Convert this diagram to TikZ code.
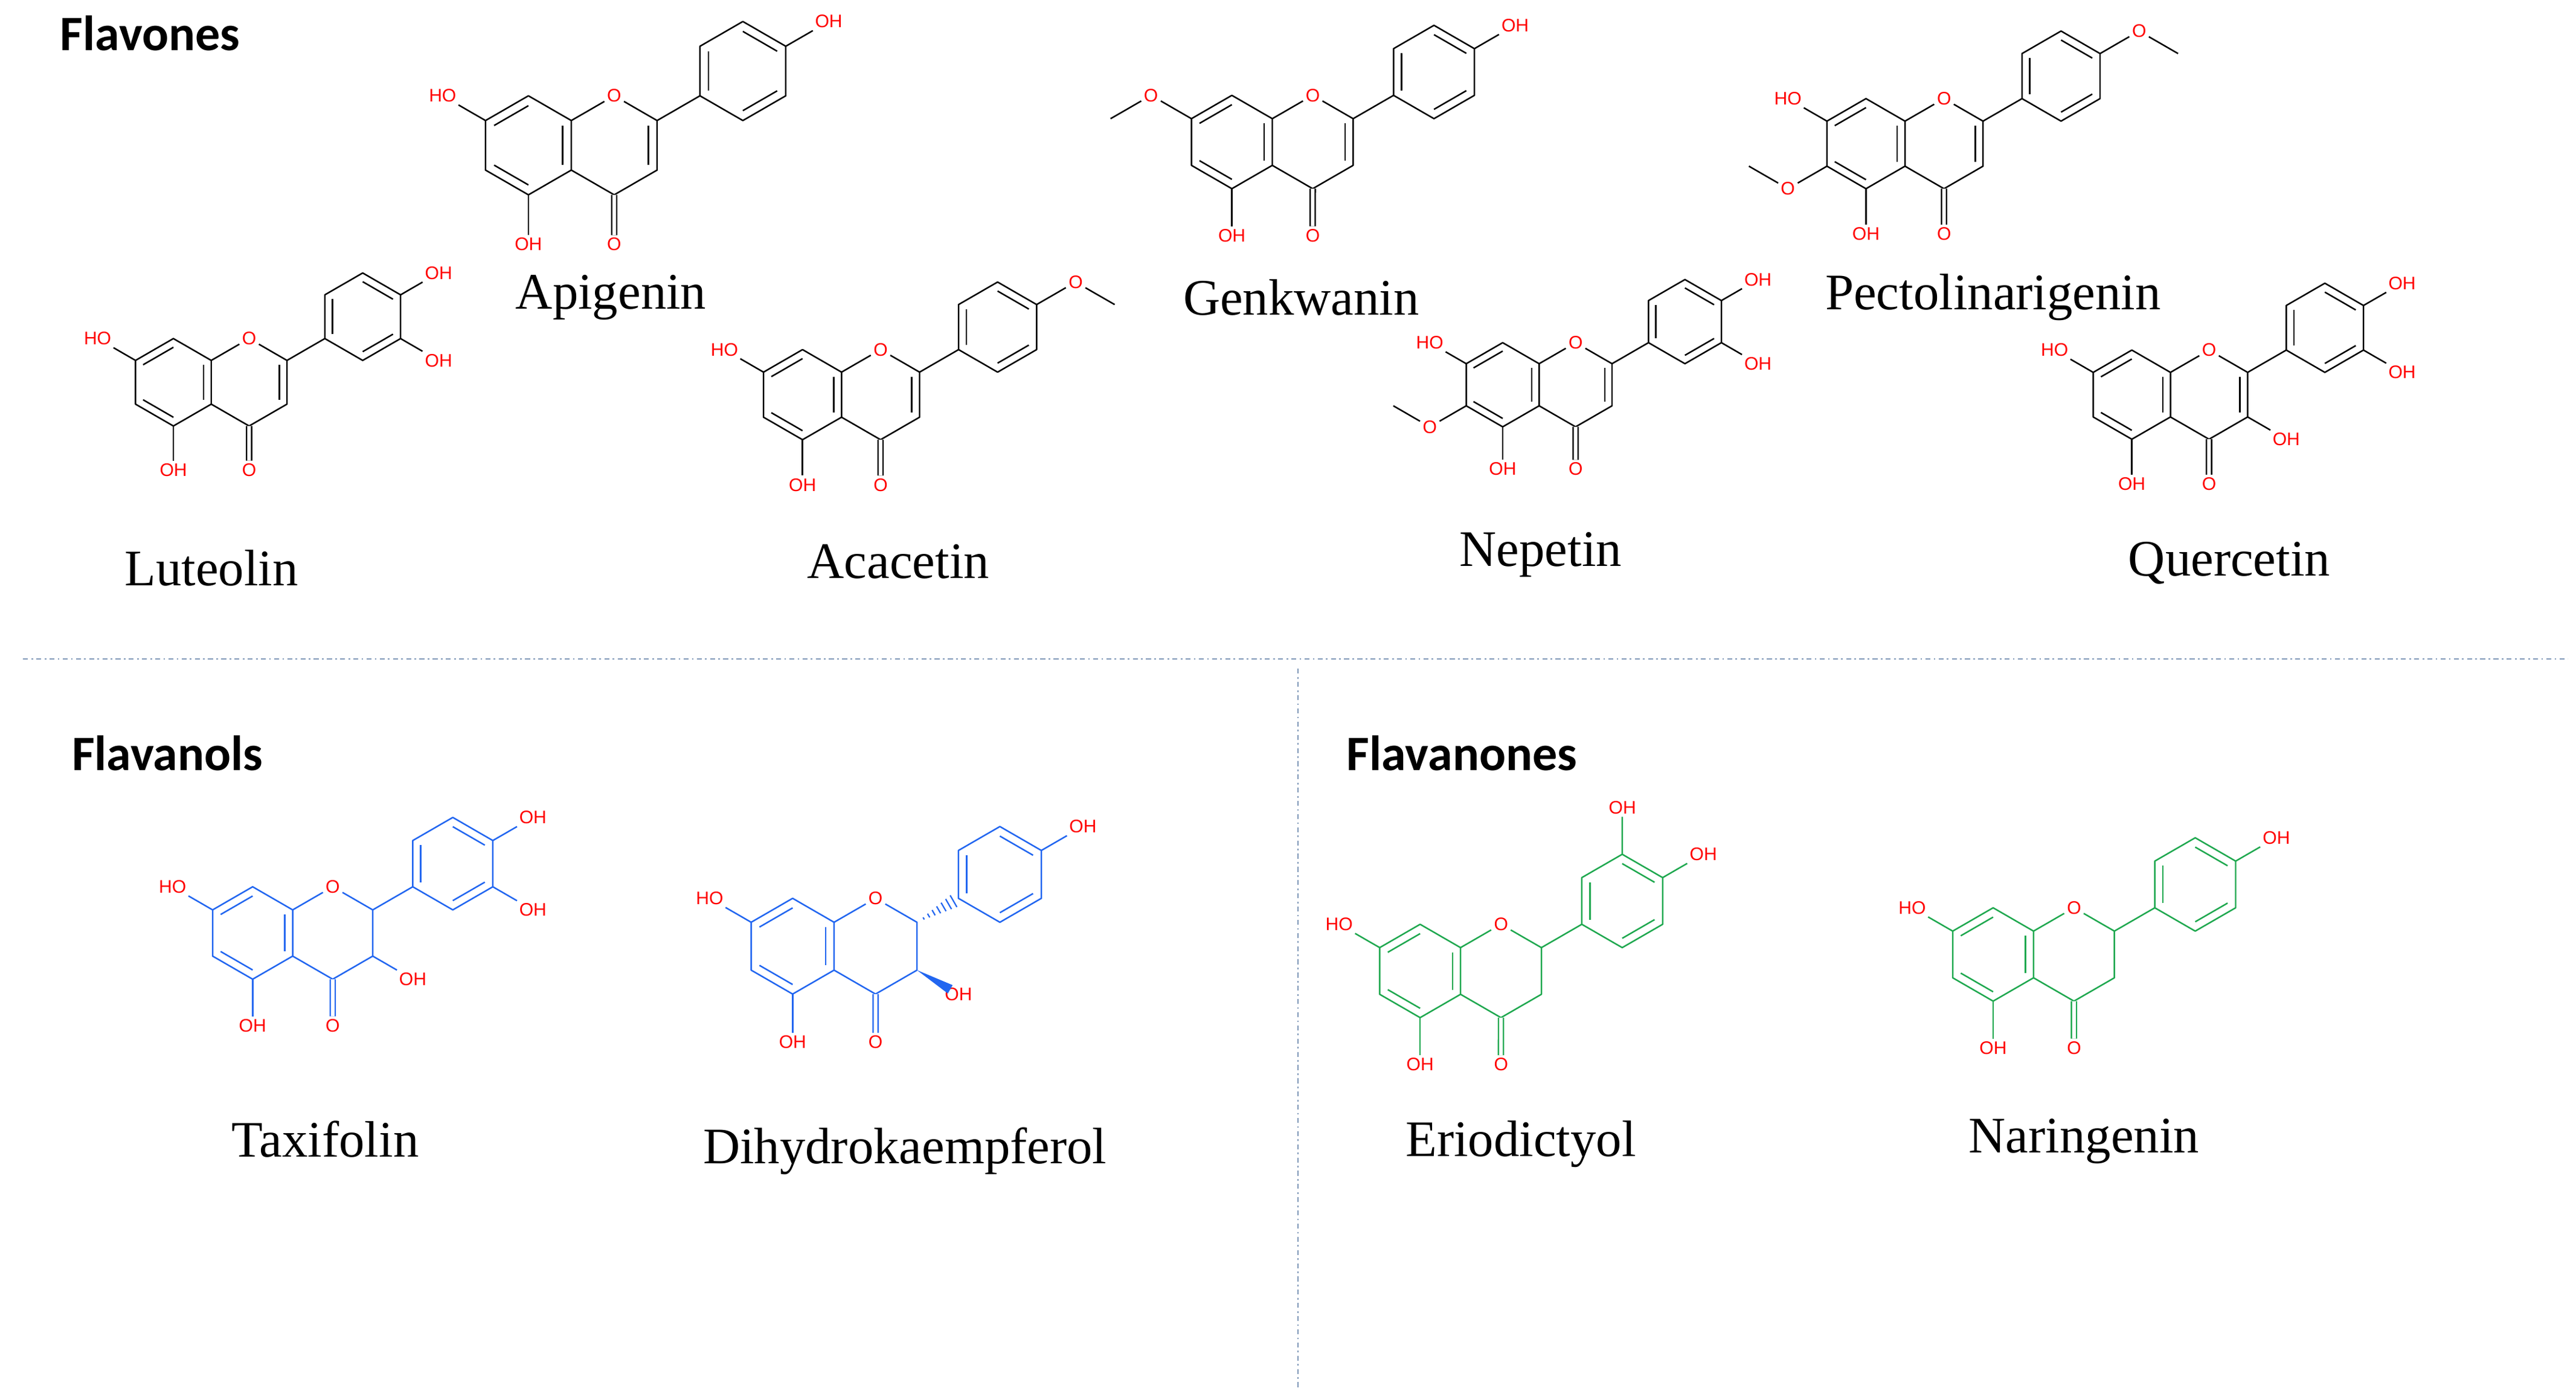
\documentclass[tikz,border=0pt]{standalone}
\usepackage{fontspec}
\setmainfont{Liberation Serif}
\newfontfamily\atomfont{Liberation Sans}
\newfontfamily\headfont{Carlito}
\usetikzlibrary{calc}
\definecolor{molblue}{HTML}{2266F0}
\definecolor{molgreen}{HTML}{1FA84F}
\definecolor{sepcol}{HTML}{7F98B8}
\newif\ifflunsat \newif\ifflohseven \newif\ifflomeseven \newif\ifflomesix
\newif\ifflohthree \newif\ifflohfp \newif\ifflomefp \newif\ifflohtop \newif\ifflohright \newif\ifflstereo
\tikzset{
  fl/.cd,
  sat/.code={\flunsatfalse},
  ome7/.code={\flohsevenfalse\flomeseventrue},
  ome6/.code={\flomesixtrue},
  oh3/.code={\flohthreetrue},
  oh4p/.code={\flohfptrue},
  ome4p/.code={\flomefptrue},
  ohtop/.code={\flohtoptrue},
  ohright/.code={\flohrighttrue},
  stereo/.code={\flstereotrue},
  /tikz/.cd,
  atom/.style={text=red,font=\atomfont\fontsize{11}{11}\selectfont,inner sep=1.2pt},
  molname/.style={font=\fontsize{31}{33}\selectfont,text=black},
  head/.style={font=\headfont\bfseries\fontsize{30}{32}\selectfont,text=black},
  sep/.style={sepcol,line width=0.9pt,dash pattern=on 3pt off 2pt on 1pt off 2pt}
}
\newcommand\dbl[3]{\draw ($(#1)!0.2!(#3)$) -- ($(#2)!0.2!(#3)$);}
% \flav[opts]{prefix}{x}{y}{b}{colour}
\newcommand\flav[6][]{%
\begingroup
\flunsattrue\flohseventrue\flomesevenfalse\flomesixfalse\flohthreefalse
\flohfpfalse\flomefpfalse\flohtopfalse\flohrightfalse\flstereofalse
\tikzset{fl/.cd,#1}%
\def\p{#2}%
\begin{scope}[shift={(#3,-#4)},scale=#5,color=#6,line width=0.9pt,line join=round]
\coordinate (\p A) at (0,0);
\coordinate (\p C) at (1.732,0);
\coordinate (\p B) at (4.330,1.5);
\coordinate (\p8) at (0,1);
\coordinate (\p8a) at (0.866,0.5);
\coordinate (\p4a) at (0.866,-0.5);
\coordinate (\p5) at (0,-1);
\coordinate (\p6) at (-0.866,-0.5);
\coordinate (\p7) at (-0.866,0.5);
\node[atom] (\p O1) at (1.732,1) {O};
\coordinate (\p2) at (2.598,0.5);
\coordinate (\p3) at (2.598,-0.5);
\coordinate (\p4) at (1.732,-1);
\coordinate (\p b1) at (3.464,1);
\coordinate (\p b2) at (3.464,2);
\coordinate (\p b3) at (4.330,2.5);
\coordinate (\p b4) at (5.196,2);
\coordinate (\p b5) at (5.196,1);
\coordinate (\p b6) at (4.330,0.5);
% rings
\draw (\p8) -- (\p8a) -- (\p4a) -- (\p5) -- (\p6) -- (\p7) -- cycle;
\draw (\p8a) -- (\p O1) -- (\p2) -- (\p3) -- (\p4) -- (\p4a);
\draw (\p b1) -- (\p b2) -- (\p b3) -- (\p b4) -- (\p b5) -- (\p b6) -- cycle;
\dbl{\p7}{\p8}{\p A}\dbl{\p8a}{\p4a}{\p A}\dbl{\p5}{\p6}{\p A}
\ifflunsat\dbl{\p2}{\p3}{\p C}\fi
\dbl{\p b1}{\p b2}{\p B}\dbl{\p b3}{\p b4}{\p B}\dbl{\p b5}{\p b6}{\p B}
% C2-C1'
\ifflstereo
  \foreach \t in {0.16,0.28,...,0.95}{%
    \pgfmathsetmacro\xa{2.598+0.866*\t-0.5*0.16*\t}%
    \pgfmathsetmacro\ya{0.5+0.5*\t+0.866*0.16*\t}%
    \pgfmathsetmacro\xb{2.598+0.866*\t+0.5*0.16*\t}%
    \pgfmathsetmacro\yb{0.5+0.5*\t-0.866*0.16*\t}%
    \draw[line width=0.8pt] (\xa,\ya) -- (\xb,\yb);}
\else
  \draw (\p2) -- (\p b1);
\fi
% carbonyl
\node[atom] (\p O4) at (1.732,-2) {O};
\draw[double=white,double distance=2.2pt,line width=0.85pt] (\p4) -- (\p O4);
% 5-OH
\node[atom] (\p O5) at (0,-2) {OH};
\draw (\p5) -- (\p O5);
% 7
\ifflohseven
  \node[atom] (\p O7) at (-1.732,1) {HO};
  \draw (\p7) -- (\p O7);
\fi
\ifflomeseven
  \node[atom] (\p O7) at (-1.732,1) {O};
  \coordinate (\p M7) at (-2.598,0.5);
  \draw (\p7) -- (\p O7) -- (\p M7);
\fi
\ifflomesix
  \node[atom] (\p O6) at (-1.732,-1) {O};
  \coordinate (\p M6) at (-2.598,-0.5);
  \draw (\p6) -- (\p O6) -- (\p M6);
\fi
\ifflohthree
  \node[atom] (\p O3) at (3.464,-1) {OH};
  \ifflstereo
    \fill (\p3) -- (3.341,-0.813) -- (3.241,-0.987) -- cycle;
  \else
    \draw (\p3) -- (\p O3);
  \fi
\fi
\ifflohfp
  \node[atom] (\p O4p) at (6.062,2.5) {OH};
  \draw (\p b4) -- (\p O4p);
\fi
\ifflomefp
  \node[atom] (\p O4p) at (6.062,2.5) {O};
  \coordinate (\p M4p) at (6.928,2);
  \draw (\p b4) -- (\p O4p) -- (\p M4p);
\fi
\ifflohtop
  \node[atom] (\p O3p) at (4.330,3.5) {OH};
  \draw (\p b3) -- (\p O3p);
\fi
\ifflohright
  \node[atom] (\p O3p) at (6.062,0.5) {OH};
  \draw (\p b5) -- (\p O3p);
\fi
\end{scope}
\endgroup}
\begin{document}
\begin{tikzpicture}[x=1pt,y=1pt]
\useasboundingbox[fill=white] (0,0) rectangle (1560,-844);
% headings
\node[head,anchor=west] (hFlavones) at (33,-20) {Flavones};
\node[head,anchor=west] (hFlavanols) at (40,-456) {Flavanols};
\node[head,anchor=west] (hFlavanones) at (812,-456) {Flavanones};
% separators
\draw[sep] (14,-399) -- (1555,-399);
\draw[sep] (786,-405) -- (786,-840);
% flavones
\flav[oh4p]{ap}{320}{88}{30}{black}
\flav[oh4p,ohright]{lu}{105}{231.5}{26.5}{black}
\flav[ome4p]{ac}{486}{239}{27.3}{black}
\flav[ome7,oh4p]{ge}{746}{86}{28.3}{black}
\flav[ome6,ome4p]{pe}{1130}{87}{27.3}{black}
\flav[ome6,oh4p,ohright]{ne}{910}{233}{25.5}{black}
\flav[oh3,oh4p,ohright]{qu}{1291}{239}{27}{black}
% flavanols
\flav[sat,oh3,oh4p,ohright]{ta}{153}{565}{28}{molblue}
\flav[sat,oh3,oh4p,stereo]{dh}{480}{573}{29}{molblue}
% flavanones
\flav[sat,oh4p,ohtop]{er}{860}{588}{28.3}{molgreen}
\flav[sat,oh4p]{na}{1207}{578}{28.3}{molgreen}
% names
\node[molname] (nAp) at (370,-180) {Apigenin};
\node[molname] (nLu) at (128,-344) {Luteolin};
\node[molname] (nAc) at (544,-340) {Acacetin};
\node[molname] (nGe) at (788,-180) {Genkwanin};
\node[molname] (nNe) at (933,-336) {Nepetin};
\node[molname] (nPe) at (1207,-180) {Pectolinarigenin};
\node[molname] (nQu) at (1350,-341) {Quercetin};
\node[molname] (nTa) at (197,-690) {Taxifolin};
\node[molname] (nDh) at (548,-697) {Dihydrokaempferol};
\node[molname] (nEr) at (921,-693) {Eriodictyol};
\node[molname] (nNa) at (1262,-691) {Naringenin};
\end{tikzpicture}
\end{document}
